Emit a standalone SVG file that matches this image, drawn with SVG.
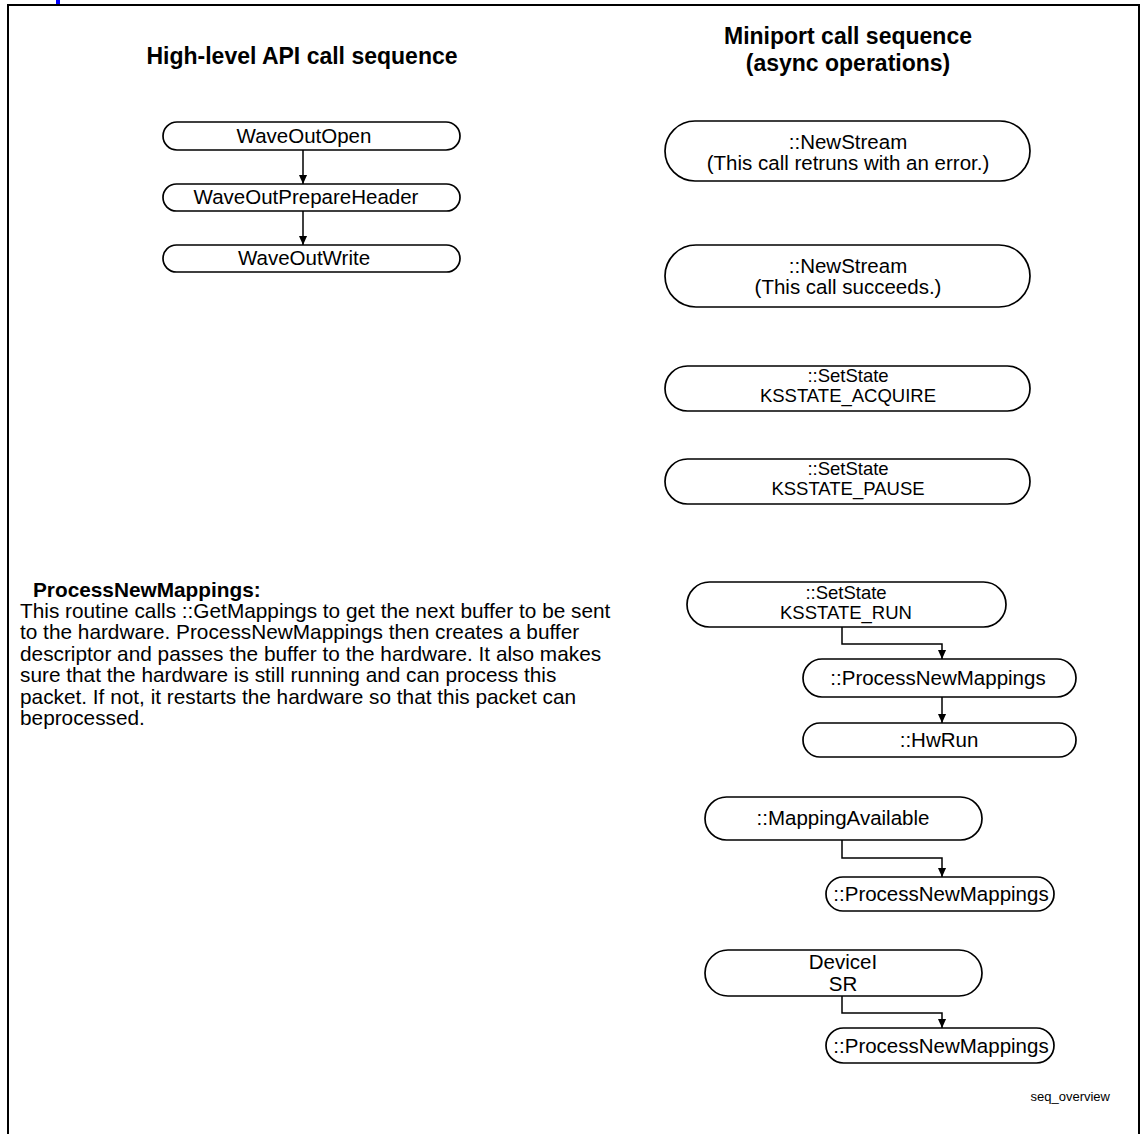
<svg xmlns="http://www.w3.org/2000/svg" width="1140" height="1134" viewBox="0 0 1140 1134">
  <style>
    .node { fill: #ffffff; stroke: #000000; stroke-width: 1.7; }
    .lbl { font-family: "Liberation Sans", Arial, sans-serif; font-size: 20.5px; fill: #000000; text-anchor: middle; }
    .lbl.state { font-size: 18.5px; }
    .title { font-family: "Liberation Sans", Arial, sans-serif; font-size: 23px; font-weight: bold; fill: #000000; text-anchor: middle; }
    .body { font-family: "Liberation Sans", Arial, sans-serif; font-size: 20.8px; fill: #000000; }
    .edge { fill: none; stroke: #000000; stroke-width: 1.5; }
    .frame { fill: none; stroke: #000000; stroke-width: 2; }
  </style>
  <defs>
    <marker id="arrow" viewBox="0 0 10 10" refX="10" refY="5" markerWidth="9" markerHeight="9" markerUnits="userSpaceOnUse" orient="auto">
      <path d="M0,0.5 L10,5 L0,9.5 Z" fill="#000000"/>
    </marker>
  </defs>

  <rect width="1140" height="1134" fill="#ffffff"/>

  <!-- page frame, open at the bottom -->
  <path class="frame" d="M8,1134 V5 H1139 V1134"/>
  <rect x="56" y="0" width="4" height="4" fill="#0000ff"/>

  <!-- column headings -->
  <text class="title" x="302" y="64">High-level API call sequence</text>
  <text class="title" x="848" y="44">Miniport call sequence</text>
  <text class="title" x="848" y="71">(async operations)</text>

  <!-- high-level API nodes -->
  <g id="waveOutOpen">
    <rect class="node" x="163" y="122" width="297" height="28" rx="14" ry="14"/>
    <text class="lbl" x="304" y="143">WaveOutOpen</text>
  </g>
  <g id="waveOutPrepareHeader">
    <rect class="node" x="163" y="184" width="297" height="27" rx="13.5" ry="13.5"/>
    <text class="lbl" x="306" y="204">WaveOutPrepareHeader</text>
  </g>
  <g id="waveOutWrite">
    <rect class="node" x="163" y="245" width="297" height="27" rx="13.5" ry="13.5"/>
    <text class="lbl" x="304" y="265">WaveOutWrite</text>
  </g>

  <!-- miniport nodes -->
  <g id="newStreamError">
    <rect class="node" x="665" y="121" width="365" height="60" rx="30" ry="30"/>
    <text class="lbl" x="848" y="149">::NewStream</text>
    <text class="lbl" x="848" y="170">(This call retruns with an error.)</text>
  </g>
  <g id="newStreamOk">
    <rect class="node" x="665" y="245" width="365" height="62" rx="31" ry="31"/>
    <text class="lbl" x="848" y="273">::NewStream</text>
    <text class="lbl" x="848" y="294">(This call succeeds.)</text>
  </g>
  <g id="setStateAcquire">
    <rect class="node" x="665" y="366" width="365" height="45" rx="22.5" ry="22.5"/>
    <text class="lbl state" x="848" y="382">::SetState</text>
    <text class="lbl state" x="848" y="401.5">KSSTATE_ACQUIRE</text>
  </g>
  <g id="setStatePause">
    <rect class="node" x="665" y="459" width="365" height="45" rx="22.5" ry="22.5"/>
    <text class="lbl state" x="848" y="475">::SetState</text>
    <text class="lbl state" x="848" y="494.5">KSSTATE_PAUSE</text>
  </g>
  <g id="setStateRun">
    <rect class="node" x="687" y="582" width="319" height="45" rx="22.5" ry="22.5"/>
    <text class="lbl state" x="846" y="599">::SetState</text>
    <text class="lbl state" x="846" y="618.5">KSSTATE_RUN</text>
  </g>
  <g id="processNewMappings1">
    <rect class="node" x="803" y="659" width="273" height="38" rx="19" ry="19"/>
    <text class="lbl" x="938" y="685">::ProcessNewMappings</text>
  </g>
  <g id="hwRun">
    <rect class="node" x="803" y="723" width="273" height="34" rx="17" ry="17"/>
    <text class="lbl" x="939" y="747">::HwRun</text>
  </g>
  <g id="mappingAvailable">
    <rect class="node" x="705" y="797" width="277" height="43" rx="21.5" ry="21.5"/>
    <text class="lbl" x="843" y="825">::MappingAvailable</text>
  </g>
  <g id="processNewMappings2">
    <rect class="node" x="826" y="877" width="228" height="34" rx="17" ry="17"/>
    <text class="lbl" x="941" y="901">::ProcessNewMappings</text>
  </g>
  <g id="deviceIsr">
    <rect class="node" x="705" y="950" width="277" height="46" rx="23" ry="23"/>
    <text class="lbl" x="843" y="969">DeviceI</text>
    <text class="lbl" x="843" y="991">SR</text>
  </g>
  <g id="processNewMappings3">
    <rect class="node" x="826" y="1028" width="228" height="35" rx="17.5" ry="17.5"/>
    <text class="lbl" x="941" y="1053">::ProcessNewMappings</text>
  </g>

  <!-- connectors -->
  <g id="connectors">
    <path class="edge" d="M303,150 V184" marker-end="url(#arrow)"/>
    <path class="edge" d="M303,211 V245" marker-end="url(#arrow)"/>
    <path class="edge" d="M842,627 V644 H942 V659" marker-end="url(#arrow)"/>
    <path class="edge" d="M942,697 V723" marker-end="url(#arrow)"/>
    <path class="edge" d="M842,840 V858 H942 V877" marker-end="url(#arrow)"/>
    <path class="edge" d="M842,996 V1013 H942 V1028" marker-end="url(#arrow)"/>
  </g>

  <!-- description of ProcessNewMappings -->
  <text class="body" x="33" y="597" font-weight="bold" font-size="18">ProcessNewMappings:</text>
  <g class="body">
    <text x="20" y="618">This routine calls ::GetMappings to get the next buffer to be sent</text>
    <text x="20" y="639">to the hardware. ProcessNewMappings then creates a buffer</text>
    <text x="20" y="661">descriptor and passes the buffer to the hardware. It also makes</text>
    <text x="20" y="682">sure that the hardware is still running and can process this</text>
    <text x="20" y="704">packet. If not, it restarts the hardware so that this packet can</text>
    <text x="20" y="725">beprocessed.</text>
  </g>

  <text x="1110" y="1101" font-family="Liberation Sans, Arial, sans-serif" font-size="13" text-anchor="end">seq_overview</text>
</svg>
